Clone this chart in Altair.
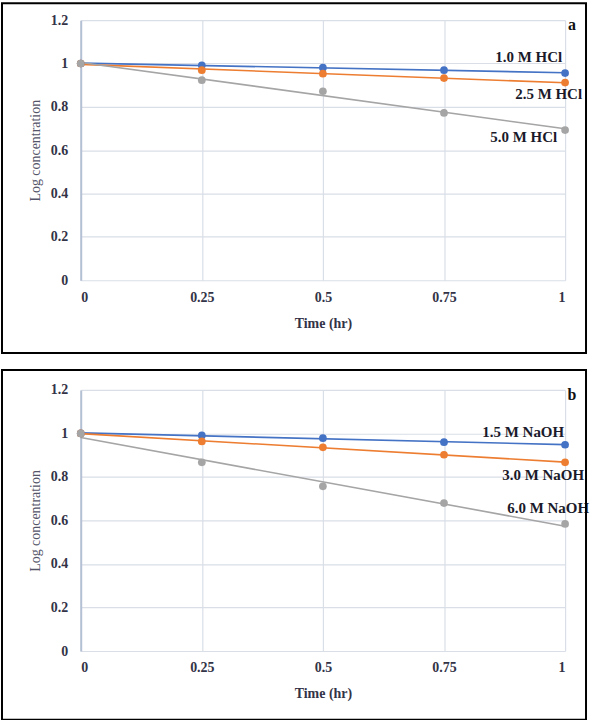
import altair as alt
import pandas as pd

SERIF = "Times New Roman, Liberation Serif, Tinos, serif"

time = [0, 0.25, 0.5, 0.75, 1]
y_ticks = [0, 0.2, 0.4, 0.6, 0.8, 1.0, 1.2]

hcl_1_0 = [1.0, 0.992, 0.981, 0.969, 0.956]
hcl_2_5 = [1.0, 0.969, 0.953, 0.933, 0.912]
hcl_5_0 = [1.0, 0.923, 0.872, 0.772, 0.693]

naoh_1_5 = [1.0, 0.991, 0.978, 0.960, 0.948]
naoh_3_0 = [1.0, 0.963, 0.936, 0.902, 0.867]
naoh_6_0 = [1.0, 0.867, 0.757, 0.680, 0.584]

labels_a = ["1.0 M HCl", "2.5 M HCl", "5.0 M HCl"]
labels_b = ["1.5 M NaOH", "3.0 M NaOH", "6.0 M NaOH"]
colors = ["#4472C4", "#ED7D31", "#A5A5A5"]


def panel(series_vals, labels, letter, offsets, height, by, by2):
    rows = []
    for lab, vals in zip(labels, series_vals):
        for t, v in zip(time, vals):
            rows.append({"t": t, "v": v, "series": lab})
    df = pd.DataFrame(rows)
    base = alt.Chart(df)
    color = alt.Color("series:N", scale=alt.Scale(domain=labels, range=colors), legend=None)
    x = alt.X("t:Q", scale=alt.Scale(domain=[0, 1], nice=False),
              axis=alt.Axis(values=time, title="Time (hr)", labelExpr="format(datum.value, '~g')",
                            labelPadding=10, titlePadding=12, domain=False, ticks=False, tickSize=0))
    y = alt.Y("v:Q", scale=alt.Scale(domain=[0, 1.2], nice=False),
              axis=alt.Axis(values=y_ticks, title="Log concentration", labelExpr="format(datum.value, '~g')",
                            labelPadding=13, titlePadding=8, ticks=False, tickSize=0,
                            domain=True, domainColor="#B4C0D4", domainWidth=2,
                            titleFontWeight="normal", titleFontSize=14, titleColor="#55556a"))
    lines = base.transform_regression("t", "v", groupby=["series"]).mark_line(strokeWidth=1.6).encode(
        x=x, y=y, color=color)
    pts = base.mark_circle(size=60, opacity=1).encode(x=x, y=y, color=color)
    texts = []
    for lab, (dx, dy) in zip(labels, offsets):
        texts.append(
            base.transform_filter((alt.datum.series == lab) & (alt.datum.t == 1))
            .mark_text(align="right", baseline="middle", dx=dx, dy=dy, font=SERIF,
                       fontWeight="bold", fontSize=15, color="#1a1a2a", clip=False)
            .encode(x="t:Q", y="v:Q", text="series:N")
        )
    ldf = pd.DataFrame({"letter": [letter]})
    let = alt.Chart(ldf).mark_text(align="center", baseline="middle", font=SERIF, fontWeight="bold",
                                   fontSize=16, color="#111").encode(
        x=alt.value(493), y=alt.value(5), text="letter:N")
    border = alt.Chart(ldf).mark_rect(filled=False, stroke="black", strokeWidth=2, clip=False).encode(
        x=alt.value(-79), x2=alt.value(507), y=alt.value(by), y2=alt.value(by2))
    return alt.layer(lines, pts, *texts, let, border).properties(width=486, height=height)


pa = panel([hcl_1_0, hcl_2_5, hcl_5_0], labels_a, "a",
           [(-3, -16), (17, 11), (-8, 7)], 261, -17, 334)
pb = panel([naoh_1_5, naoh_3_0, naoh_6_0], labels_b, "b",
           [(-1, -13), (19, 13), (24, -16)], 262, -20, 331)

chart = alt.vconcat(pa, pb, spacing=13).properties(
    padding={"left": 0, "top": 0, "right": 0, "bottom": 0}
).configure_view(stroke="transparent").configure_axis(
    labelFont=SERIF, labelFontWeight="bold", labelFontSize=14, labelColor="#333347",
    titleFont=SERIF, titleFontWeight="bold", titleFontSize=14, titleColor="#333347",
    gridColor="#D9DEE7", gridWidth=1.2
)

chart.save("out.html", embed_options={"renderer": "svg", "actions": False})
